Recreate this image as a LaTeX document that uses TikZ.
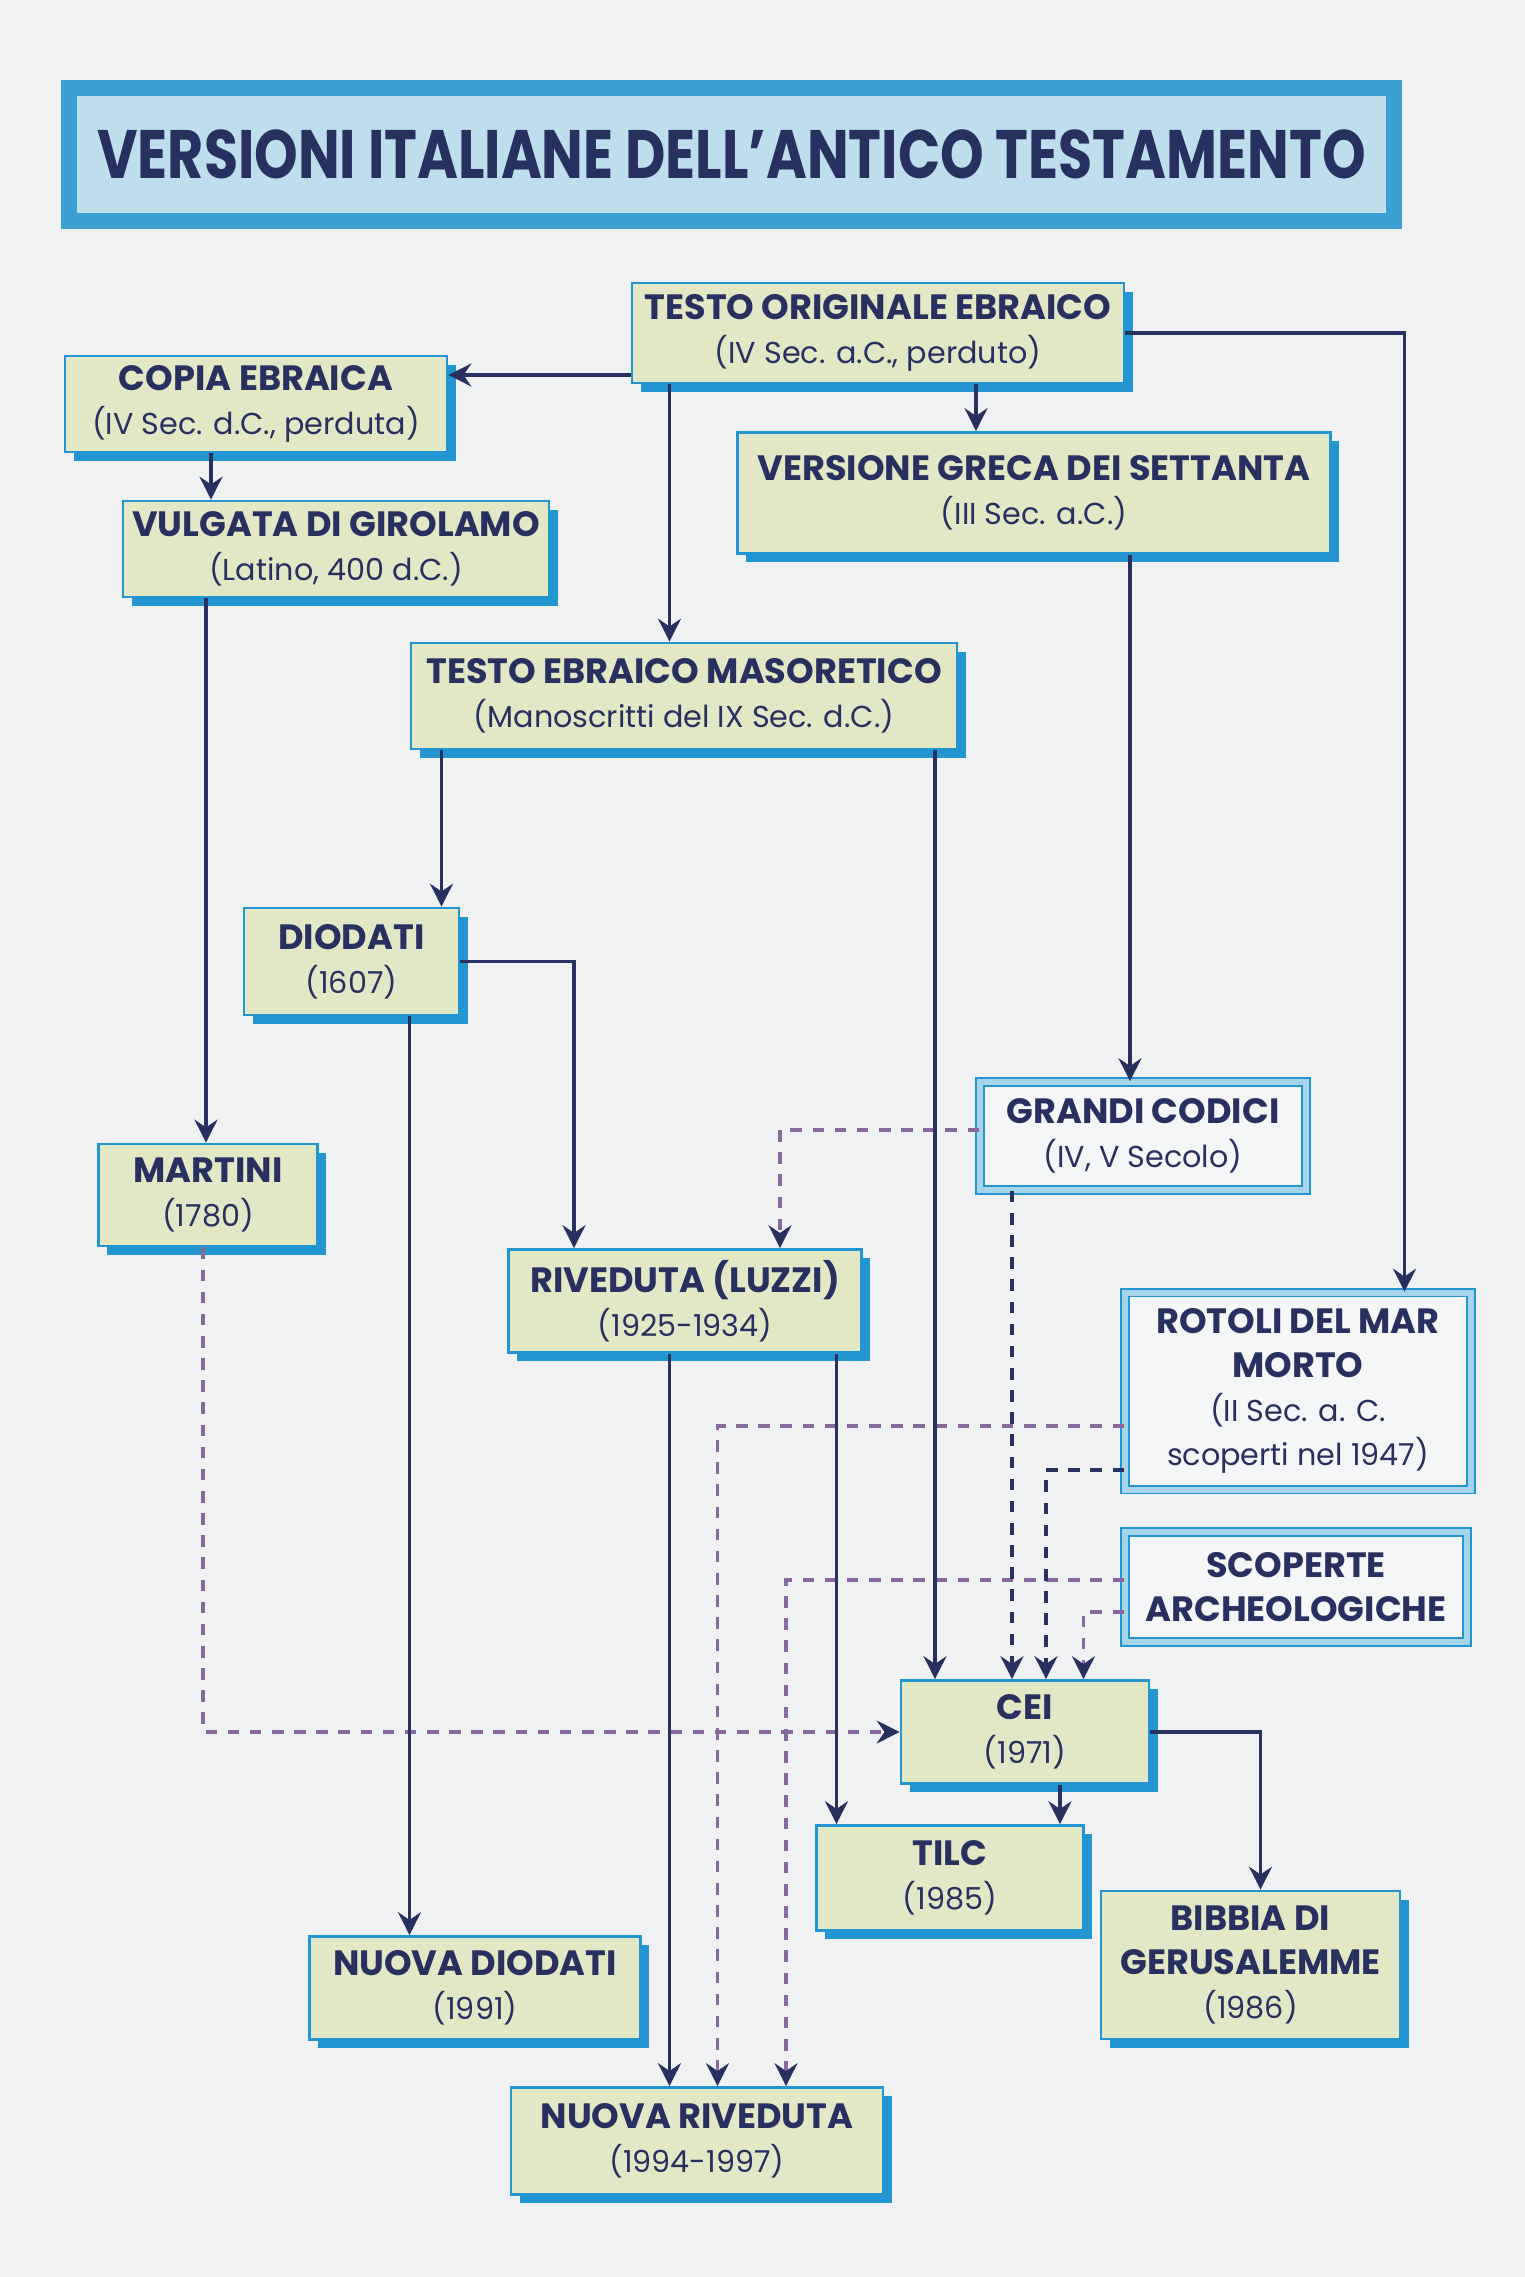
\documentclass[tikz,border=0pt]{standalone}
\usepackage{fontspec}
\setmainfont{Poppins}
\usepackage{graphicx}
\usetikzlibrary{arrows.meta, shadows}
\definecolor{ink}{RGB}{40,48,95}
\definecolor{pagebg}{RGB}{239,241,243}
\definecolor{titleblue}{RGB}{60,160,212}
\definecolor{titlefill}{RGB}{190,222,238}
\definecolor{boxblue}{RGB}{35,150,210}
\definecolor{boxfill}{RGB}{226,231,198}
\definecolor{bandblue}{RGB}{165,212,235}
\definecolor{discfill}{RGB}{244,246,247}
\definecolor{dashpurple}{RGB}{135,105,155}
\newcommand{\hd}[1]{{\fontsize{10}{12.5}\selectfont\bfseries #1}}

\begin{document}
\begin{tikzpicture}[
      box/.style={rectangle, draw=boxblue, line width=0.8pt, fill=boxfill, text=ink, align=center,
        font=\fontsize{8.6}{12.5}\selectfont, inner sep=1pt,
        drop shadow={shadow xshift=0.85mm, shadow yshift=-0.85mm, fill=boxblue, opacity=1}},
      disc/.style={rectangle, draw=boxblue, line width=0.5pt, double=bandblue, double distance=1.7pt,
        fill=discfill, text=ink, align=center, font=\fontsize{8.6}{12.5}\selectfont, inner sep=1pt},
      arr/.style={-{Stealth[length=6.5pt, width=6.5pt, inset=2.2pt]}, ink, line width=1.1pt},
      darr/.style={-{Stealth[length=6.5pt, width=6.5pt, inset=2.2pt, color=ink]}, dashpurple, line width=1pt,
        dash pattern=on 3.3pt off 3pt},
      ndarr/.style={-{Stealth[length=6.5pt, width=6.5pt, inset=2.2pt]}, ink, line width=1.3pt,
        dash pattern=on 3.3pt off 3pt}]
    \fill[pagebg] (0,0) rectangle (15.25,-22.77);
    \useasboundingbox (0,0) rectangle (15.25,-22.77);

    % title
    \node[draw=titleblue, line width=4.5pt, fill=titlefill, minimum width=13.25cm, minimum height=1.33cm,
      text=ink, font=\fontsize{19.5}{22}\selectfont\bfseries] (title) at (7.315,-1.545)
      {\scalebox{0.81}[1]{VERSIONI ITALIANE DELL’ANTICO TESTAMENTO}};

    % versions
    \node[box, minimum width=4.92cm, minimum height=1.00cm] (torig) at (8.78,-3.33)
      {\hd{TESTO ORIGINALE EBRAICO}\\(IV Sec. a.C., perduto)};
    \node[box, minimum width=3.82cm, minimum height=0.96cm] (copia) at (2.56,-4.04)
      {\hd{COPIA EBRAICA}\\(IV Sec. d.C., perduta)};
    \node[box, minimum width=5.93cm, minimum height=1.21cm] (greca) at (10.34,-4.93)
      {\hd{VERSIONE GRECA DEI SETTANTA}\\(III Sec. a.C.)};
    \node[box, minimum width=4.26cm, minimum height=0.96cm] (vulgata) at (3.36,-5.49)
      {\hd{VULGATA DI GIROLAMO}\\(Latino, 400 d.C.)};
    \node[box, minimum width=5.46cm, minimum height=1.06cm] (maso) at (6.84,-6.96)
      {\hd{TESTO EBRAICO MASORETICO}\\(Manoscritti del IX Sec. d.C.)};
    \node[box, minimum width=2.15cm, minimum height=1.07cm] (diodati) at (3.515,-9.615)
      {\hd{DIODATI}\\(1607)};
    \node[disc, minimum width=3.26cm, minimum height=1.08cm] (codici) at (11.43,-11.36)
      {\hd{GRANDI CODICI}\\(IV, V Secolo)};
    \node[box, minimum width=2.19cm, minimum height=1.02cm] (martini) at (2.08,-11.95)
      {\hd{MARTINI}\\(1780)};
    \node[box, minimum width=3.53cm, minimum height=1.03cm] (riveduta) at (6.85,-13.01)
      {\hd{RIVEDUTA (LUZZI)}\\(1925-1934)};
    \node[disc, minimum width=3.46cm, minimum height=1.97cm] (rotoli) at (12.98,-13.91)
      {\hd{ROTOLI DEL MAR}\\\hd{MORTO}\\(II Sec. a. C.\\scoperti nel 1947)};
    \node[disc, minimum width=3.42cm, minimum height=1.10cm] (scoperte) at (12.96,-15.87)
      {\hd{SCOPERTE}\\\hd{ARCHEOLOGICHE}};
    \node[box, minimum width=2.48cm, minimum height=1.03cm] (cei) at (10.25,-17.32)
      {\hd{CEI}\\(1971)};
    \node[box, minimum width=2.67cm, minimum height=1.05cm] (tilc) at (9.50,-18.78)
      {\hd{TILC}\\(1985)};
    \node[box, minimum width=2.99cm, minimum height=1.48cm] (bibbia) at (12.505,-19.65)
      {\hd{BIBBIA DI}\\\hd{GERUSALEMME}\\(1986)};
    \node[box, minimum width=3.31cm, minimum height=1.03cm] (ndiodati) at (4.75,-19.88)
      {\hd{NUOVA DIODATI}\\(1991)};
    \node[box, minimum width=3.72cm, minimum height=1.07cm] (nriveduta) at (6.97,-21.41)
      {\hd{NUOVA RIVEDUTA}\\(1994-1997)};

    % dashed influences
    \draw[darr] ([yshift=0.06cm]codici.west) -| ([xshift=0.95cm]riveduta.north);
    \draw[darr] ([xshift=-0.05cm]martini.south) |- (cei.west);
    \draw[darr] ([yshift=-0.35cm]rotoli.west) -| ([xshift=0.205cm]nriveduta.north);
    \draw[darr] ([yshift=0.07cm]scoperte.west) -| ([xshift=0.89cm]nriveduta.north);
    \draw[darr] ([yshift=-0.25cm]scoperte.west) -| ([xshift=0.585cm]cei.north);
    \draw[ndarr] ([xshift=-1.31cm]codici.south) -- ([xshift=-1.31cm]codici.south |- cei.north);
    \draw[ndarr] ([yshift=-0.79cm]rotoli.west) -| ([xshift=0.21cm]cei.north);

    % derivations
    \draw[arr] ([yshift=-0.42cm]torig.west) -- ([yshift=-0.42cm]torig.west -| copia.east);
    \draw[arr] ([xshift=-2.085cm]torig.south) -- ([xshift=-2.085cm]torig.south |- maso.north);
    \draw[arr] ([xshift=0.98cm]torig.south) -- ([xshift=0.98cm]torig.south |- greca.north);
    \draw[arr] (torig.east) -| ([xshift=1.065cm]rotoli.north);
    \draw[arr] ([xshift=-0.45cm]copia.south) -- ([xshift=-0.45cm]copia.south |- vulgata.north);
    \draw[arr] ([xshift=-1.30cm]vulgata.south) -- ([xshift=-1.30cm]vulgata.south |- martini.north);
    \draw[arr] ([xshift=0.96cm]greca.south) -- ([xshift=0.96cm]greca.south |- codici.north);
    \draw[arr] ([xshift=-2.425cm]maso.south) -- ([xshift=-2.425cm]maso.south |- diodati.north);
    \draw[arr] ([xshift=2.51cm]maso.south) -- ([xshift=2.51cm]maso.south |- cei.north);
    \draw[arr] (diodati.east) -| ([xshift=-1.11cm]riveduta.north);
    \draw[arr] ([xshift=0.58cm]diodati.south) -- ([xshift=0.58cm]diodati.south |- ndiodati.north);
    \draw[arr] ([xshift=-0.155cm]riveduta.south) -- ([xshift=-0.155cm]riveduta.south |- nriveduta.north);
    \draw[arr] ([xshift=1.515cm]riveduta.south) -- ([xshift=1.515cm]riveduta.south |- tilc.north);
    \draw[arr] ([xshift=0.35cm]cei.south) -- ([xshift=0.35cm]cei.south |- tilc.north);
    \draw[arr] (cei.east) -| ([xshift=0.1cm]bibbia.north);
  \end{tikzpicture}
\end{document}
